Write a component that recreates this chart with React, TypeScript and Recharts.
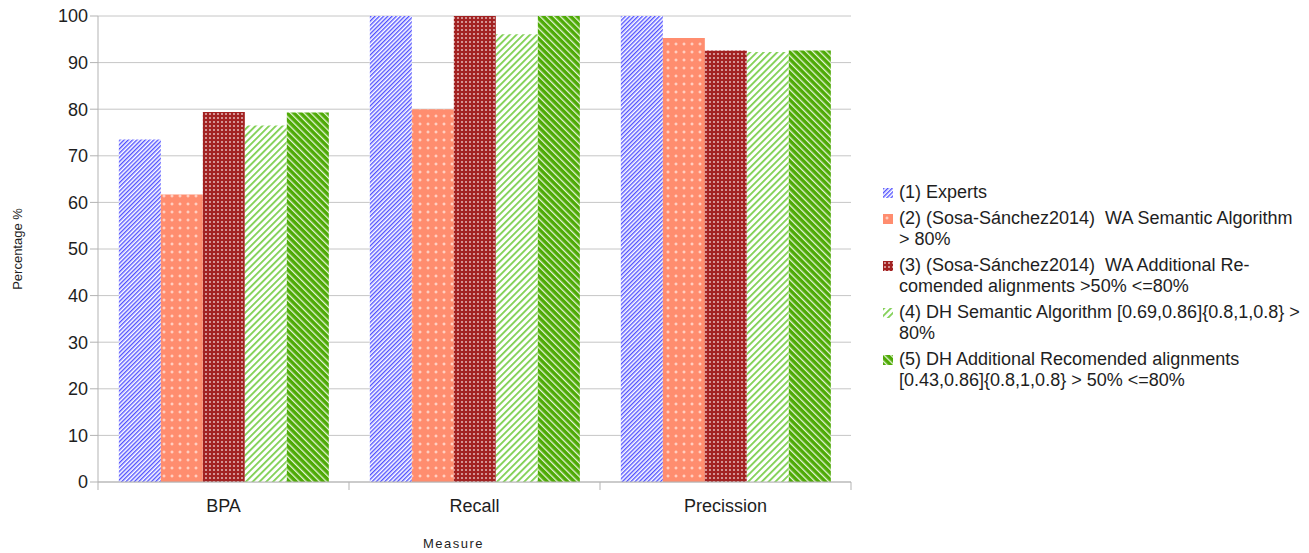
import { Bar, BarChart, CartesianGrid, Legend, XAxis, YAxis } from 'recharts';

const categories = ['BPA', 'Recall', 'Precission'];
const experts = [73.5, 100, 100];
const sosaSemantic = [61.7, 80, 95.3];
const sosaAdditional = [79.4, 100, 92.6];
const dhSemantic = [76.5, 96.1, 92.3];
const dhAdditional = [79.3, 100, 92.6];
const yTicks = [0, 10, 20, 30, 40, 50, 60, 70, 80, 90, 100];

const series = [
  { key: 's1', name: '(1) Experts', values: experts, pattern: 'pat-experts' },
  { key: 's2', name: '(2) (Sosa-Sánchez2014)  WA Semantic Algorithm > 80%', values: sosaSemantic, pattern: 'pat-sosa-sem' },
  { key: 's3', name: '(3) (Sosa-Sánchez2014)  WA Additional Re-comended alignments >50% <=80%', values: sosaAdditional, pattern: 'pat-sosa-add' },
  { key: 's4', name: '(4) DH Semantic Algorithm [0.69,0.86]{0.8,1,0.8} > 80%', values: dhSemantic, pattern: 'pat-dh-sem' },
  { key: 's5', name: '(5) DH Additional Recomended alignments [0.43,0.86]{0.8,1,0.8} > 50% <=80%', values: dhAdditional, pattern: 'pat-dh-add' },
];

const data = categories.map((name, i) => {
  const row: Record<string, string | number> = { name };
  series.forEach((s) => {
    row[s.key] = s.values[i];
  });
  return row;
});

const FONT = '"Liberation Sans", Arial, sans-serif';
const TEXT = '#1e1e1e';
const GRID = '#c6c6c6';
const AXIS = '#b3b3b3';

function CategoryTick(props: any) {
  const { x, y, payload, index, width, visibleTicksCount } = props;
  const count = visibleTicksCount ?? categories.length;
  const band = (typeof width === 'number' ? width : 753) / count;
  const axisY = y - 10;
  return (
    <g>
      <line x1={x - band / 2} x2={x - band / 2} y1={axisY} y2={axisY + 8} stroke={AXIS} />
      {index === count - 1 && (
        <line x1={x + band / 2} x2={x + band / 2} y1={axisY} y2={axisY + 8} stroke={AXIS} />
      )}
      <text x={x} y={axisY + 30} textAnchor="middle" fontSize={18} fill={TEXT} fontFamily={FONT}>
        {payload.value}
      </text>
    </g>
  );
}

function LegendBox() {
  return (
    <div style={{ paddingLeft: 32, fontFamily: FONT, fontSize: 18, lineHeight: '21px', color: TEXT }}>
      {series.map((s) => (
        <div key={s.key} style={{ display: 'flex', alignItems: 'flex-start', marginBottom: 5 }}>
          <svg width={10} height={10} style={{ marginTop: 6, marginRight: 6, flex: 'none' }}>
            <rect width={10} height={10} fill={`url(#${s.pattern})`} />
          </svg>
          <span style={{ whiteSpace: 'pre-wrap' }}>{s.name}</span>
        </div>
      ))}
    </div>
  );
}

export default function App() {
  return (
    <div style={{ marginTop: -8, marginLeft: -8, width: 1309, height: 553, fontFamily: FONT, background: '#fff' }}>
      <BarChart
        width={1309}
        height={553}
        data={data}
        margin={{ top: 16, right: 8, left: 0, bottom: 0 }}
        barGap={0}
        barCategoryGap="8.3%"
      >
        <defs>
          <pattern id="pat-experts" width="3" height="3" patternUnits="userSpaceOnUse" patternTransform="rotate(45)">
            <rect width="3" height="3" fill="#ffffff" />
            <rect width="1.4" height="3" fill="#5252ff" />
          </pattern>
          <pattern id="pat-sosa-sem" width="8" height="8" patternUnits="userSpaceOnUse">
            <rect width="8" height="8" fill="#ff8d6f" />
            <rect x="3.5" y="2.5" width="1" height="3" fill="#ffe4dc" />
            <rect x="2.5" y="3.5" width="3" height="1" fill="#ffe4dc" />
          </pattern>
          <pattern id="pat-sosa-add" width="4" height="4" patternUnits="userSpaceOnUse">
            <rect width="4" height="4" fill="#a22222" />
            <rect x="1.2" y="1.2" width="1.6" height="1.6" fill="#eed2d2" />
          </pattern>
          <pattern id="pat-dh-sem" width="4.8" height="4.8" patternUnits="userSpaceOnUse" patternTransform="rotate(45)">
            <rect width="4.8" height="4.8" fill="#ffffff" />
            <rect width="1.8" height="4.8" fill="#7fcf52" />
          </pattern>
          <pattern id="pat-dh-add" width="4.8" height="4.8" patternUnits="userSpaceOnUse" patternTransform="rotate(-45)">
            <rect width="4.8" height="4.8" fill="#4eaa06" />
            <rect width="1.3" height="4.8" fill="#e6f4d8" />
          </pattern>
        </defs>
        <CartesianGrid stroke={GRID} vertical={false} />
        <XAxis
          dataKey="name"
          height={71}
          tickSize={8}
          tickMargin={2}
          tickLine={false}
          axisLine={{ stroke: AXIS }}
          tick={<CategoryTick />}
          interval={0}
          label={({ viewBox }: any) => (
            <text
              x={viewBox.x + viewBox.width / 2 - 21}
              y={viewBox.y + 66}
              textAnchor="middle"
              fontSize={13}
              letterSpacing={1.5}
              fill={TEXT}
              fontFamily={FONT}
            >
              Measure
            </text>
          )}
        />
        <YAxis
          width={98}
          domain={[0, 100]}
          ticks={yTicks}
          interval={0}
          tickSize={8}
          tickMargin={2}
          axisLine={{ stroke: AXIS }}
          tickLine={{ stroke: AXIS }}
          tick={{ fontSize: 18, fill: TEXT, fontFamily: FONT }}
          label={({ viewBox }: any) => {
            const cx = viewBox.x + 17;
            const cy = viewBox.y + viewBox.height / 2;
            return (
              <text
                x={cx}
                y={cy}
                transform={`rotate(-90, ${cx}, ${cy})`}
                textAnchor="middle"
                dominantBaseline="central"
                fontSize={13}
                fill={TEXT}
                fontFamily={FONT}
              >
                Percentage %
              </text>
            );
          }}
        />
        <Legend
          layout="vertical"
          align="right"
          verticalAlign="top"
          content={<LegendBox />}
          wrapperStyle={{ top: 182, right: 8, width: 450 }}
        />
        {series.map((s) => (
          <Bar key={s.key} dataKey={s.key} name={s.name} fill={`url(#${s.pattern})`} isAnimationActive={false} />
        ))}
      </BarChart>
    </div>
  );
}
